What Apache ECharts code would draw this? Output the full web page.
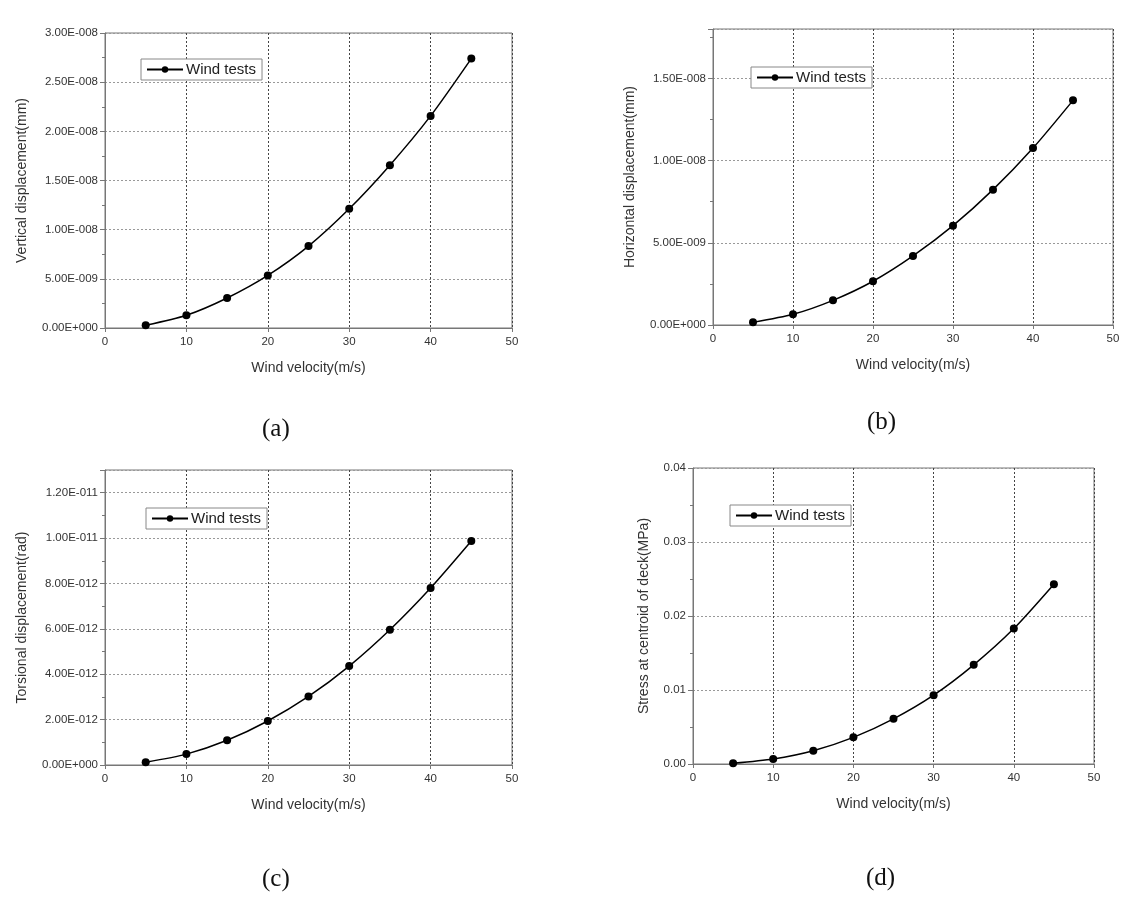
<!DOCTYPE html>
<html>
<head>
<meta charset="utf-8">
<script src="https://cdn.jsdelivr.net/npm/echarts@6/dist/echarts.min.js"></script>
<style>
html,body{margin:0;padding:0;background:#fff;}
#chart{width:1145px;height:910px;}
</style>
</head>
<body>
<div id="chart"></div>
<script>
// ---- data ----
const velocity = [5, 10, 15, 20, 25, 30, 35, 40, 45];
const verticalDisp = [2.7e-10, 1.29e-9, 3.05e-9, 5.35e-9, 8.33e-9, 1.212e-8, 1.656e-8, 2.157e-8, 2.74e-8];
const horizontalDisp = [1.6e-10, 6.5e-10, 1.5e-9, 2.66e-9, 4.2e-9, 6.04e-9, 8.23e-9, 1.076e-8, 1.366e-8];
const torsionalDisp = [1.2e-13, 4.8e-13, 1.09e-12, 1.94e-12, 3.02e-12, 4.36e-12, 5.96e-12, 7.80e-12, 9.87e-12];
const stressDeck = [0.0001, 0.00068, 0.0018, 0.0036, 0.0061, 0.0093, 0.0134, 0.0183, 0.0243];
const seriesName = 'Wind tests';
const xTitle = 'Wind velocity(m/s)';
const yTitles = ['Vertical displacement(mm)', 'Horizontal displacement(mm)', 'Torsional displacement(rad)', 'Stress at centroid of deck(MPa)'];
const panelLabels = ['(a)', '(b)', '(c)', '(d)'];

function sciFmt(v) {
  if (v === 0) return '0.00E+000';
  const s = v.toExponential(2);
  const parts = s.split('e');
  const exp = parseInt(parts[1], 10);
  const sign = exp < 0 ? '-' : '+';
  const e = String(Math.abs(exp)).padStart(3, '0');
  return parts[0] + 'E' + sign + e;
}
function fixFmt(v) { return v.toFixed(2); }

const panels = [
  { data: verticalDisp, grid: { left: 105, top: 33, width: 407, height: 295 }, yMax: 3e-8, yInt: 5e-9, showMax: true, fmt: sciFmt, yGap: 76, legend: { left: 141, top: 59 }, label: [280, 431] },
  { data: horizontalDisp, grid: { left: 713, top: 29, width: 400, height: 296 }, yMax: 1.8e-8, yInt: 5e-9, showMax: false, fmt: sciFmt, yGap: 76, legend: { left: 751, top: 67 }, label: [885, 424] },
  { data: torsionalDisp, grid: { left: 105, top: 470, width: 407, height: 295 }, yMax: 1.3e-11, yInt: 2e-12, showMax: false, fmt: sciFmt, yGap: 76, legend: { left: 146, top: 508 }, label: [280, 881] },
  { data: stressDeck, grid: { left: 693, top: 468, width: 401, height: 296 }, yMax: 0.04, yInt: 0.01, showMax: true, fmt: fixFmt, yGap: 42, legend: { left: 730, top: 505 }, label: [884, 880] }
];

const axisColor = '#777';
const textColor = '#333';
const font = 'Liberation Sans, Arial, sans-serif';

const option = {
  animation: false,
  backgroundColor: '#fff',
  grid: [], xAxis: [], yAxis: [], series: [], legend: [], graphic: []
};

panels.forEach((p, i) => {
  option.grid.push(Object.assign({ show: true, borderColor: axisColor, borderWidth: 1, backgroundColor: 'transparent', containLabel: false }, p.grid));
  option.xAxis.push({
    type: 'value', gridIndex: i, min: 0, max: 50, interval: 10,
    name: xTitle, nameLocation: 'middle', nameGap: 33,
    nameTextStyle: { fontFamily: font, fontSize: 14, color: textColor },
    axisLine: { show: true, onZero: false, lineStyle: { color: axisColor, width: 1 } },
    axisTick: { show: true, inside: false, length: 4, lineStyle: { color: axisColor } },
    axisLabel: { fontFamily: font, fontSize: 11.5, color: textColor, margin: 8 },
    splitLine: { show: true, lineStyle: { color: '#444', type: [2, 2], width: 1 } }
  });
  option.yAxis.push({
    type: 'value', gridIndex: i, min: 0, max: p.yMax, interval: p.yInt,
    name: yTitles[i], nameLocation: 'middle', nameGap: p.yGap, nameRotate: 90,
    nameTextStyle: { fontFamily: font, fontSize: 14, color: textColor },
    axisLine: { show: true, onZero: false, lineStyle: { color: axisColor, width: 1 } },
    axisTick: { show: true, inside: false, length: 5, lineStyle: { color: axisColor } },
    minorTick: { show: true, splitNumber: 2, length: 3, lineStyle: { color: axisColor } },
    axisLabel: { fontFamily: font, fontSize: 11.5, color: textColor, margin: 7, formatter: p.fmt, showMaxLabel: p.showMax },
    splitLine: { show: true, lineStyle: { color: '#999', type: [2, 2], width: 1 } }
  });
  option.series.push({
    type: 'line', name: seriesName, xAxisIndex: i, yAxisIndex: i,
    data: velocity.map((v, k) => [v, p.data[k]]),
    smooth: 0.25, symbol: 'circle', symbolSize: 8,
    itemStyle: { color: '#000' },
    lineStyle: { color: '#000', width: 1.5 }
  });
  option.legend.push({
    data: [seriesName], left: p.legend.left, top: p.legend.top,
    orient: 'vertical', itemWidth: 36, itemHeight: 8, itemGap: 0,
    padding: [3, 6, 3, 5], borderColor: '#888', borderWidth: 1, backgroundColor: '#fff',
    textStyle: { fontFamily: font, fontSize: 15, color: '#222', padding: [0, 0, 0, -2] },
    selectedMode: false
  });
  option.graphic.push({
    type: 'text', left: p.label[0] - 18, top: p.label[1] - 14,
    style: { text: panelLabels[i], fontFamily: 'Liberation Serif, DejaVu Serif, serif', fontSize: 25, fill: '#111' }
  });
});

const chart = echarts.init(document.getElementById('chart'), null, { renderer: 'canvas' });
chart.setOption(option);
</script>
</body>
</html>
